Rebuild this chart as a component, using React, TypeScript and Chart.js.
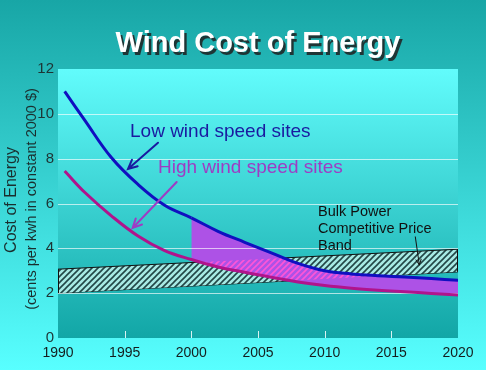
import React, { useEffect, useRef } from 'react';
import { Chart, registerables } from 'chart.js';

Chart.register(...registerables);

// ---- data ----
const years = [1990.5, 1992, 1994, 1996, 1998, 2000, 2002, 2004, 2006, 2008, 2010, 2012, 2014, 2016, 2018, 2020];
const lowWindSites = [11.0, 9.72, 8.05, 6.85, 5.92, 5.36, 4.76, 4.27, 3.8, 3.33, 3.0, 2.86, 2.78, 2.72, 2.65, 2.58];
const highWindSites = [7.45, 6.5, 5.45, 4.55, 3.9, 3.5, 3.17, 2.93, 2.71, 2.5, 2.34, 2.22, 2.13, 2.06, 1.99, 1.92];
const bandYears = [1990, 2020];
const bandLower = [2.0, 2.95];
const bandUpper = [3.07, 3.96];
const fillFromYear = 2000;
const xTickYears = [1990, 1995, 2000, 2005, 2010, 2015, 2020];
const yTickValues = [0, 2, 4, 6, 8, 10, 12];

const titleText = 'Wind Cost of Energy';
const yTitleMain = 'Cost of Energy';
const yTitleSub = '(cents per kwh in constant 2000 $)';
const lowLabel = 'Low wind speed sites';
const highLabel = 'High wind speed sites';
const bandLabel = ['Bulk Power', 'Competitive Price', 'Band'];

// annotation anchors in data units [year, value]
const lowLabelPos = [1995.4, 9.2];
const highLabelPos = [1997.5, 7.59];
const bandLabelPos = [2009.5, 5.63];
const lowArrow = [[1997.5, 8.71], [1995.25, 7.54]];
const highArrow = [[1998.9, 6.96], [1995.6, 4.91]];
const bandArrow = [[2016.8, 4.51], [2017.1, 3.26]];

const FONT = '"Liberation Sans", Arial, Helvetica, sans-serif';
const BLUE = '#1010C0';
const PURPLE_LINE = '#B0148C';
const PURPLE_FILL = '#AD52E6';
const LOW_TEXT = '#1A1AA0';
const HIGH_TEXT = '#9E3CC4';

function makeHatch(bg: string | null, fg: string, size: number, lw: number) {
  const c = document.createElement('canvas');
  c.width = size;
  c.height = size;
  const x = c.getContext('2d')!;
  if (bg) {
    x.fillStyle = bg;
    x.fillRect(0, 0, size, size);
  }
  x.strokeStyle = fg;
  x.lineWidth = lw;
  x.beginPath();
  x.moveTo(0, size);
  x.lineTo(size, 0);
  x.moveTo(-size / 2, size / 2);
  x.lineTo(size / 2, -size / 2);
  x.moveTo(size / 2, size * 1.5);
  x.lineTo(size * 1.5, size / 2);
  x.stroke();
  return x.createPattern(c, 'repeat')!;
}

function drawArrow(ctx: CanvasRenderingContext2D, x1: number, y1: number, x2: number, y2: number, color: string, lw: number, head: number) {
  const ang = Math.atan2(y2 - y1, x2 - x1);
  ctx.save();
  ctx.strokeStyle = color;
  ctx.lineWidth = lw;
  ctx.lineCap = 'round';
  ctx.beginPath();
  ctx.moveTo(x1, y1);
  ctx.lineTo(x2, y2);
  ctx.moveTo(x2 - head * Math.cos(ang - 0.45), y2 - head * Math.sin(ang - 0.45));
  ctx.lineTo(x2, y2);
  ctx.lineTo(x2 - head * Math.cos(ang + 0.45), y2 - head * Math.sin(ang + 0.45));
  ctx.stroke();
  ctx.restore();
}

export default function App() {
  const ref = useRef<HTMLCanvasElement | null>(null);

  useEffect(() => {
    document.body.style.margin = '0';
    const canvas = ref.current!;
    const bandPattern = makeHatch('#A8EAE4', '#224646', 6, 1.6);
    const pinkPattern = makeHatch(null, '#FF55D8', 6, 1.6);

    const idxHigh = 0;
    const idxLow = 1;
    const idxBandUp = 2;

    const plugin: any = {
      id: 'decor',
      beforeDraw(chart: any) {
        const { ctx, chartArea: a, width, height } = chart;
        ctx.save();
        const g = ctx.createLinearGradient(0, 0, 0, height);
        g.addColorStop(0, '#18A6A6');
        g.addColorStop(1, '#58FFFF');
        ctx.fillStyle = g;
        ctx.fillRect(0, 0, width, height);
        const g2 = ctx.createLinearGradient(0, a.top, 0, a.bottom);
        g2.addColorStop(0, '#62FCFC');
        g2.addColorStop(1, '#12A6A6');
        ctx.fillStyle = g2;
        ctx.fillRect(a.left, a.top, a.right - a.left, a.bottom - a.top);
        ctx.restore();
      },
      afterDatasetDraw(chart: any, args: any) {
        if (args.index !== idxBandUp) return;
        const { ctx } = chart;
        const xs = chart.scales.x, ys = chart.scales.y;
        ctx.save();
        ctx.strokeStyle = '#111';
        ctx.lineWidth = 1;
        for (let i = 0; i < bandYears.length; i++) {
          const px = Math.round(xs.getPixelForValue(bandYears[i])) + (i === 0 ? 0.5 : -0.5);
          ctx.beginPath();
          ctx.moveTo(px, ys.getPixelForValue(bandLower[i]));
          ctx.lineTo(px, ys.getPixelForValue(bandUpper[i]));
          ctx.stroke();
        }
        ctx.restore();
      },
      beforeDatasetDraw(chart: any, args: any) {
        if (args.index !== idxLow) return;
        const { ctx, chartArea: a } = chart;
        const xs = chart.scales.x, ys = chart.scales.y;
        const mLow = chart.getDatasetMeta(idxLow);
        const mHigh = chart.getDatasetMeta(idxHigh);
        mLow.dataset.updateControlPoints(a, 'x');
        mHigh.dataset.updateControlPoints(a, 'x');
        const pl = mLow.data as any[];
        const ph = mHigh.data as any[];
        const i0 = years.indexOf(fillFromYear);
        ctx.save();
        // clip to band
        ctx.beginPath();
        for (let i = 0; i < bandYears.length; i++) {
          const px = xs.getPixelForValue(bandYears[i]);
          const py = ys.getPixelForValue(bandUpper[i]);
          if (i === 0) ctx.moveTo(px, py); else ctx.lineTo(px, py);
        }
        for (let i = bandYears.length - 1; i >= 0; i--) {
          ctx.lineTo(xs.getPixelForValue(bandYears[i]), ys.getPixelForValue(bandLower[i]));
        }
        ctx.closePath();
        ctx.clip();
        // region between curves
        ctx.beginPath();
        ctx.moveTo(pl[i0].x, pl[i0].y);
        for (let i = i0 + 1; i < pl.length; i++) {
          const p = pl[i - 1], q = pl[i];
          ctx.bezierCurveTo(p.cp2x, p.cp2y, q.cp1x, q.cp1y, q.x, q.y);
        }
        const n = ph.length - 1;
        ctx.lineTo(ph[n].x, ph[n].y);
        for (let i = n - 1; i >= i0; i--) {
          const p = ph[i + 1], q = ph[i];
          ctx.bezierCurveTo(p.cp1x, p.cp1y, q.cp2x, q.cp2y, q.x, q.y);
        }
        ctx.closePath();
        ctx.fillStyle = pinkPattern;
        ctx.fill();
        ctx.restore();

        // horizontal gridlines
        ctx.save();
        ctx.strokeStyle = 'rgba(255,255,255,0.65)';
        ctx.lineWidth = 1.2;
        for (const v of yTickValues) {
          if (v <= 0 || v >= 12) continue;
          const py = Math.round(ys.getPixelForValue(v)) + 0.5;
          ctx.beginPath();
          ctx.moveTo(a.left, py);
          ctx.lineTo(a.right, py);
          ctx.stroke();
        }
        ctx.restore();
      },
      afterDraw(chart: any) {
        const { ctx, chartArea: a } = chart;
        const xs = chart.scales.x, ys = chart.scales.y;
        const X = (v: number) => xs.getPixelForValue(v);
        const Y = (v: number) => ys.getPixelForValue(v);

        // inner tick marks on x axis
        ctx.save();
        ctx.strokeStyle = 'rgba(255,255,255,0.85)';
        ctx.lineWidth = 1;
        for (const t of xTickYears) {
          if (t <= 1990 || t >= 2020) continue;
          const px = Math.round(X(t)) + 0.5;
          ctx.beginPath();
          ctx.moveTo(px, a.bottom - 7);
          ctx.lineTo(px, a.bottom);
          ctx.stroke();
        }
        ctx.restore();

        // title with shadow
        ctx.save();
        ctx.font = `bold 29px ${FONT}`;
        ctx.textAlign = 'center';
        ctx.textBaseline = 'alphabetic';
        const cx = (a.left + a.right) / 2;
        ctx.fillStyle = '#1F3535';
        ctx.fillText(titleText, cx + 2.5, 54.5);
        ctx.fillStyle = '#FFFFFF';
        ctx.fillText(titleText, cx, 52);
        ctx.restore();

        // y axis titles
        ctx.save();
        ctx.translate(12, 200);
        ctx.rotate(-Math.PI / 2);
        ctx.textAlign = 'center';
        ctx.textBaseline = 'middle';
        ctx.fillStyle = '#1A2E2E';
        ctx.font = `16px ${FONT}`;
        ctx.fillText(yTitleMain, 0, 0);
        ctx.font = `14.5px ${FONT}`;
        ctx.fillText(yTitleSub, 1, 20);
        ctx.restore();

        // annotations
        ctx.save();
        ctx.textAlign = 'left';
        ctx.textBaseline = 'middle';
        ctx.font = `19px ${FONT}`;
        ctx.fillStyle = LOW_TEXT;
        ctx.fillText(lowLabel, X(lowLabelPos[0]), Y(lowLabelPos[1]));
        ctx.fillStyle = HIGH_TEXT;
        ctx.fillText(highLabel, X(highLabelPos[0]), Y(highLabelPos[1]));
        ctx.font = `14.5px ${FONT}`;
        ctx.fillStyle = '#111111';
        bandLabel.forEach((s, i) => {
          ctx.fillText(s, X(bandLabelPos[0]), Y(bandLabelPos[1]) + i * 17);
        });
        ctx.restore();

        drawArrow(ctx, X(lowArrow[0][0]), Y(lowArrow[0][1]), X(lowArrow[1][0]), Y(lowArrow[1][1]), LOW_TEXT, 2, 10);
        drawArrow(ctx, X(highArrow[0][0]), Y(highArrow[0][1]), X(highArrow[1][0]), Y(highArrow[1][1]), HIGH_TEXT, 2, 10);
        drawArrow(ctx, X(bandArrow[0][0]), Y(bandArrow[0][1]), X(bandArrow[1][0]), Y(bandArrow[1][1]), '#111111', 1, 6);
      },
    };

    const chart = new Chart(canvas, {
      type: 'line',
      data: {
        datasets: [
          {
            label: highLabel,
            data: years.map((x, i) => ({ x, y: highWindSites[i] })),
            borderColor: PURPLE_LINE,
            borderWidth: 3,
            pointRadius: 0,
            tension: 0.4,
            fill: false,
          },
          {
            label: lowLabel,
            data: years.map((x, i) => ({ x, y: lowWindSites[i] })),
            borderColor: BLUE,
            borderWidth: 3,
            pointRadius: 0,
            tension: 0.4,
            fill: 0,
            backgroundColor: PURPLE_FILL,
            segment: {
              backgroundColor: (c: any) => (c.p0.parsed.x >= fillFromYear ? PURPLE_FILL : 'rgba(0,0,0,0)'),
            },
          } as any,
          {
            label: 'band upper',
            data: bandYears.map((x, i) => ({ x, y: bandUpper[i] })),
            borderColor: '#111111',
            borderWidth: 1,
            pointRadius: 0,
            tension: 0,
            fill: '+1',
            backgroundColor: bandPattern,
          },
          {
            label: 'band lower',
            data: bandYears.map((x, i) => ({ x, y: bandLower[i] })),
            borderColor: '#111111',
            borderWidth: 1,
            pointRadius: 0,
            tension: 0,
            fill: false,
          },
        ],
      },
      options: {
        responsive: false,
        animation: false,
        devicePixelRatio: 1,
        layout: { padding: { top: 69, right: 28, bottom: 0, left: 0 } },
        plugins: {
          legend: { display: false },
          tooltip: { enabled: false },
          title: { display: false },
        },
        scales: {
          x: {
            type: 'linear',
            min: 1990,
            max: 2020,
            afterFit: (s: any) => { s.height = 32; },
            afterBuildTicks: (s: any) => { s.ticks = xTickYears.map((v) => ({ value: v })); },
            grid: { display: false, drawTicks: false },
            border: { display: false },
            ticks: {
              padding: 7,
              color: '#141E1E',
              font: { family: FONT, size: 14 },
              maxRotation: 0,
              autoSkip: false,
              callback: (v: any) => String(v),
            },
          },
          y: {
            type: 'linear',
            min: 0,
            max: 12,
            afterFit: (s: any) => { s.width = 58; },
            afterBuildTicks: (s: any) => { s.ticks = yTickValues.map((v) => ({ value: v })); },
            grid: { display: false, drawTicks: false },
            border: { display: false },
            ticks: {
              padding: 4,
              color: '#1E3434',
              font: { family: FONT, size: 15 },
              callback: (v: any) => String(v),
            },
          },
        },
      },
      plugins: [plugin],
    } as any);

    return () => chart.destroy();
  }, []);

  return (
    <div style={{ width: 486, height: 370 }}>
      <canvas ref={ref} width={486} height={370} style={{ display: 'block' }} />
    </div>
  );
}
